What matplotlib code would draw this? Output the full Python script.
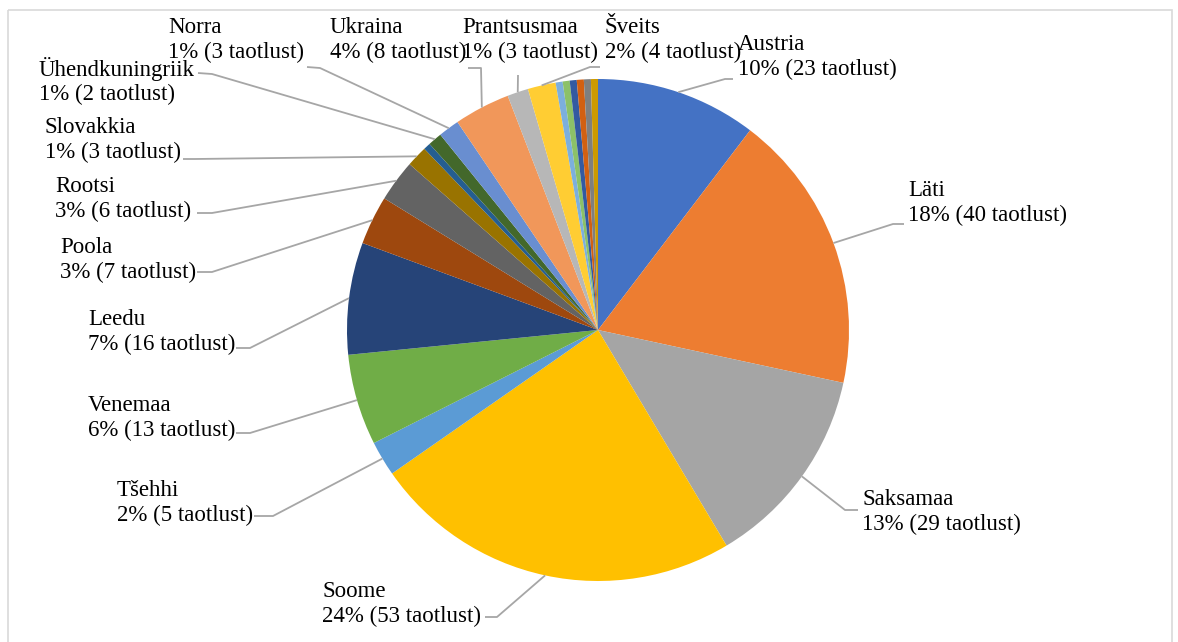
import numpy as np
import matplotlib
matplotlib.use('Agg')
import matplotlib.pyplot as plt
from matplotlib.patches import Rectangle

# data (applications per country), clockwise from 12 o'clock
countries = ['Austria', 'Läti', 'Saksamaa', 'Soome', 'Tšehhi', 'Venemaa', 'Leedu',
             'Poola', 'Rootsi', 'Slovakkia', '', 'Ühendkuningriik', 'Norra', 'Ukraina',
             'Prantsusmaa', 'Šveits', '', '', '', '', '', '']
counts = [23, 40, 29, 53, 5, 13, 16, 7, 6, 3, 1, 2, 3, 8, 3, 4, 1, 1, 1, 1, 1, 1]

colors = ['#4472C4', '#ED7D31', '#A5A5A5', '#FFC000', '#5B9BD5', '#70AD47', '#264478',
          '#9E480E', '#636363', '#997300', '#255E91', '#43682B', '#698ED0', '#F1975A',
          '#B7B7B7', '#FFCD33', '#7CAFDD', '#8CC168', '#335AA1', '#D26012', '#7F7F7F',
          '#CC9A00']

# label layout in pixels: text left x, text centre y, leader elbow points (text side first)
layout = {
    'Austria':         ((738, 57),  [(733, 79), (725, 79)]),
    'Läti':            ((908, 203), [(904, 224), (893, 224)]),
    'Saksamaa':        ((862, 512), [(858, 510), (845, 510)]),
    'Soome':           ((322, 604), [(485, 617), (497, 617)]),
    'Tšehhi':          ((117, 503), [(254, 516), (273, 516)]),
    'Venemaa':         ((88, 418),  [(236, 433), (250, 433)]),
    'Leedu':           ((88, 332),  [(236, 348), (250, 348)]),
    'Poola':           ((60, 260),  [(197, 272), (212, 272)]),
    'Rootsi':          ((55, 199),  [(197, 213), (212, 213)]),
    'Slovakkia':       ((45, 140),  [(183, 159), (195, 159)]),
    'Ühendkuningriik': ((39, 81),   [(198, 73), (212, 74)]),
    'Norra':           ((168, 40),  [(307, 67), (320, 68)]),
    'Ukraina':         ((330, 40),  [(468, 68), (481, 68)]),
    'Prantsusmaa':     ((462, 40),  [(518, 75)]),
    'Šveits':          ((605, 40),  [(600, 67), (590, 67)]),
}

W, H = 1178, 642
cx, cy, r = 598, 330, 251
font = 'Liberation Serif'

fig = plt.figure(figsize=(W / 100, H / 100), dpi=100)
ax = fig.add_axes([0, 0, 1, 1])

# y axis runs downwards (pixel style), so startangle -90 is the top and
# counterclockwise in data shows clockwise on screen
wedges, _ = ax.pie(counts, colors=colors, startangle=-90, counterclock=True,
                   center=(cx, cy), radius=r, wedgeprops=dict(linewidth=0))

ax.set_xlim(0, W)
ax.set_ylim(H, 0)
ax.axis('off')

total = sum(counts)
for wedge, name, n in zip(wedges, countries, counts):
    if not name:
        continue
    mid = np.deg2rad((wedge.theta1 + wedge.theta2) / 2)
    px, py = cx + r * np.cos(mid), cy + r * np.sin(mid)
    (tx, ty), elbow = layout[name]
    pts = elbow + [(px, py)]
    ax.plot([p[0] for p in pts], [p[1] for p in pts], color='#A6A6A6', lw=1.3,
            solid_capstyle='butt', zorder=1)
    pct = round(n / total * 100)
    ax.text(tx, ty, f'{name}\n{pct}% ({n} taotlust)', ha='left', va='center',
            fontsize=16.5, family=font, linespacing=1.22, color='black')

# chart border
ax.add_patch(Rectangle((8, 10), 1164, 650, fill=False, edgecolor='#D9D9D9', lw=1.2,
                       clip_on=False))

fig.savefig('out.png', dpi=100)
